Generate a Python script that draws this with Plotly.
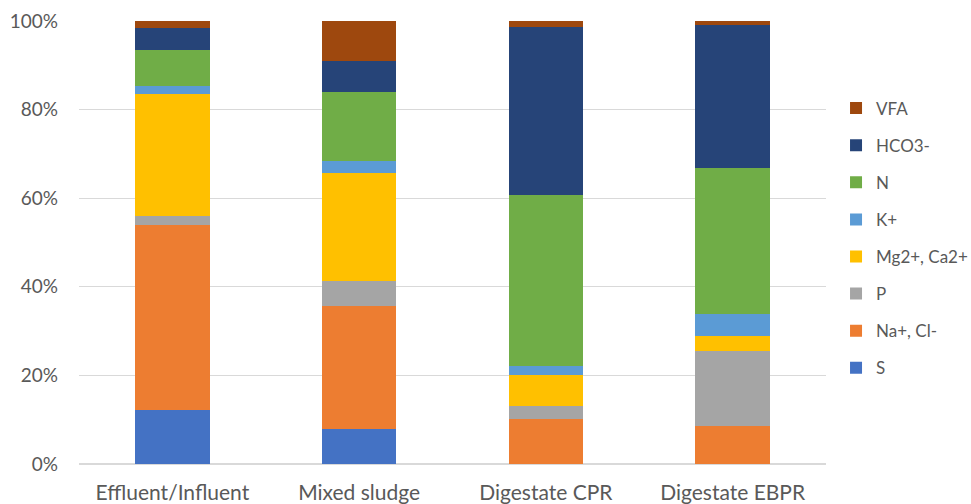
import plotly.graph_objects as go

categories = ["Effluent/Influent", "Mixed sludge", "Digestate CPR", "Digestate EBPR"]
series_names = ["S", "Na+, Cl-", "P", "Mg2+, Ca2+", "K+", "N", "HCO3-", "VFA"]
S = [12.1, 8.0, 0.0, 0.0]
NaCl = [41.8, 27.6, 10.1, 8.6]
P = [2.1, 5.6, 2.9, 16.8]
MgCa = [27.6, 24.5, 7.1, 3.6]
K = [1.7, 2.6, 2.1, 4.9]
N = [8.2, 15.6, 38.6, 33.0]
HCO3 = [5.0, 7.0, 37.8, 32.1]
VFA = [1.5, 9.1, 1.4, 1.0]
colors = ["#4472C4", "#ED7D31", "#A5A5A5", "#FFC000", "#5B9BD5", "#70AD47", "#264478", "#9E480E"]

values = [S, NaCl, P, MgCa, K, N, HCO3, VFA]
totals = [sum(v[i] for v in values) for i in range(len(categories))]

fig = go.Figure()
for idx, (name, vals, col) in enumerate(zip(series_names, values, colors)):
    fig.add_trace(go.Bar(
        x=categories, y=[vals[i] / totals[i] for i in range(len(categories))],
        name=name, marker=dict(color=col, line=dict(width=0)),
        legendgroup=name, legendrank=1000 - idx,
    ))

fig.update_layout(
    barmode="stack",
    bargap=0.6,
    width=971, height=504,
    margin=dict(l=79, r=145, t=21, b=40),
    paper_bgcolor="white", plot_bgcolor="white",
    font=dict(family="Lato, Open Sans, sans-serif", size=19, color="#595959"),
    yaxis=dict(range=[0, 1], tickformat=".0%", dtick=0.2, showgrid=True,
               gridcolor="#D9D9D9", gridwidth=1, zeroline=True, zerolinecolor="#D9D9D9",
               ticks="", showline=False, tickfont=dict(size=19), automargin=False,
               ticklabelstandoff=20),
    xaxis=dict(showline=False, ticks="", tickfont=dict(size=21), automargin=False,
               ticklabelstandoff=14),
    legend=dict(traceorder="grouped", tracegroupgap=12, xref="container", x=0.861,
                yref="paper", y=0.51,
                yanchor="middle", xanchor="left", font=dict(size=17, color="#595959"),
                itemwidth=30),
    showlegend=True,
)

fig.write_html("out.html", config={"displayModeBar": False},
               post_script="document.body.style.margin='0';")
